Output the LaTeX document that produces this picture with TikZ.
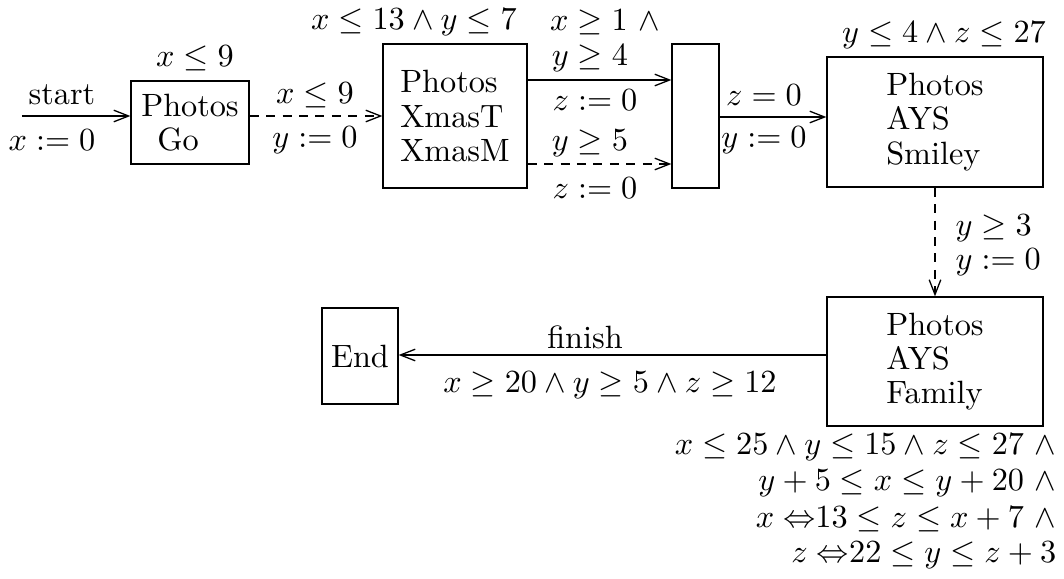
\documentclass[tikz,border=0pt]{standalone}
\usetikzlibrary{arrows.meta}
\begin{document}
\begin{tikzpicture}[x=0.31pt,y=-0.31pt,
  box/.style={draw,line width=0.4pt,inner sep=0pt,align=left,
    execute at begin node={\setlength{\baselineskip}{10.6pt}}},
  lbl/.style={inner sep=0pt},
  arr/.style={line width=0.4pt,-{Straight Barb[length=4.6pt,width=3.6pt,line width=0.4pt]}},
  dsh/.style={dash pattern=on 2.8pt off 2.3pt}]
\useasboundingbox (0,0) rectangle (1064,579);
% boxes
\node[box,minimum width=36.58pt,minimum height=25.73pt] (b1) at (190,122.5) {Photos\\\hspace{5pt}Go};
\node[box,minimum width=44.64pt,minimum height=44.64pt] (b2) at (455,116) {Photos\\XmasT\\XmasM};
\node[box,minimum width=14.57pt,minimum height=44.64pt] (b3) at (695.5,116) {};
\node[box,minimum width=66.96pt,minimum height=40.3pt] (b4) at (935,122) {Photos\\AYS\\Smiley};
\node[box,minimum width=66.96pt,minimum height=40pt] (b5) at (935,361.5) {Photos\\AYS\\Family};
\node[box,minimum width=23.56pt,minimum height=29.76pt,align=center] (end) at (360,356) {End};
\coordinate (s) at (22,116);
% connectors
\draw[arr] (s) -- (b1.west |- s);
\draw[arr,dsh] (b1.east |- 0,116) -- (b2.west |- 0,116);
\draw[arr] (b2.east |- 0,80) -- (b3.west |- 0,80);
\draw[arr,dsh] (b2.east |- 0,164) -- (b3.west |- 0,164);
\draw[arr] (b3.east |- 0,117) -- (b4.west |- 0,117);
\draw[arr,dsh] (b4.south) -- (b5.north);
\draw[arr] (b5.west |- 0,355) -- (end.east |- 0,355);
% labels
\node[lbl] (l1) at (195,58) {$x\le 9$};
\node[lbl] (l2) at (62,95) {start};
\node[lbl] (l3) at (52,140) {$x:=0$};
\node[lbl] (l4) at (315,95) {$x\le 9$};
\node[lbl] (l5) at (315,140) {$y:=0$};
\node[lbl] (l6) at (414,22) {$x\le 13\wedge y\le 7$};
\node[lbl] (l7) at (605,22) {$x\ge 1\ \wedge$};
\node[lbl] (l8) at (590,58) {$y\ge 4$};
\node[lbl] (l9) at (595,100) {$z:=0$};
\node[lbl] (l10) at (590,143) {$y\ge 5$};
\node[lbl] (l11) at (595,188) {$z:=0$};
\node[lbl] (l12) at (764,95) {$z=0$};
\node[lbl] (l13) at (764,140) {$y:=0$};
\node[lbl] (l14) at (944,35) {$y\le 4\wedge z\le 27$};
\node[lbl,anchor=west] (l15) at (955,228) {$y\ge 3$};
\node[lbl,anchor=west] (l16) at (955,262) {$y:=0$};
\node[lbl] (l17) at (585,337) {finish};
\node[lbl] (l18) at (610,385) {$x\ge 20\wedge y\ge 5\wedge z\ge 12$};
\node[lbl,anchor=east] (l19) at (1057,447) {$x\le 25\wedge y\le 15\wedge z\le 27\ \wedge$};
\node[lbl,anchor=east] (l20) at (1057,483) {$y+5\le x\le y+20\ \wedge$};
\node[lbl,anchor=east] (l21) at (1057,519) {$x\;{\Leftrightarrow}13\le z\le x+7\ \wedge$};
\node[lbl,anchor=east] (l22) at (1057,555) {$z\;{\Leftrightarrow}22\le y\le z+3$};
\end{tikzpicture}
\end{document}
